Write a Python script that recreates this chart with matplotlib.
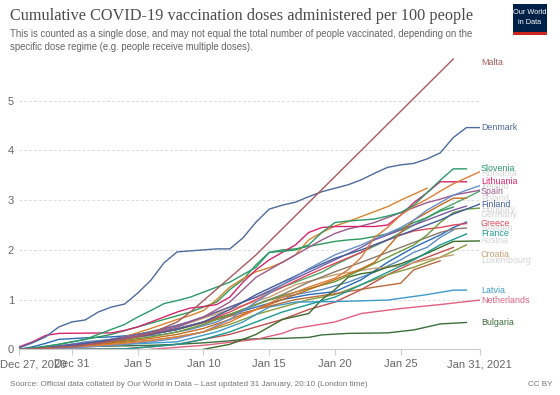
import matplotlib
matplotlib.use("Agg")
import matplotlib.pyplot as plt
import matplotlib.transforms as mtransforms
from matplotlib.patches import Rectangle
import pandas as pd

start = pd.Timestamp("2020-12-27")

# (days since Dec 27, doses per 100 people)
denmark = list(enumerate([0.03, 0.13, 0.25, 0.45, 0.55, 0.59, 0.75, 0.85, 0.91, 1.13, 1.39, 1.74,
                          1.96, 1.98, 2.00, 2.02, 2.02, 2.24, 2.56, 2.82, 2.90, 2.96, 3.07, 3.17,
                          3.24, 3.31, 3.41, 3.54, 3.66, 3.71, 3.74, 3.83, 3.95, 4.26, 4.46, 4.46]))
malta = [(0, 0.0), (4, 0.05), (8, 0.2), (10, 0.32), (12, 0.55), (13, 0.75), (18, 1.9), (33, 5.84)]
slovenia = [(0, 0.0), (1, 0.03), (2, 0.06), (3, 0.1), (4, 0.15), (5, 0.2), (6, 0.3), (7, 0.4),
            (8, 0.5), (9, 0.65), (10, 0.78), (11, 0.92), (12, 0.98), (13, 1.05), (14, 1.15),
            (15, 1.25), (16, 1.35), (17, 1.5), (18, 1.65), (19, 1.95), (20, 1.97), (21, 2.0),
            (22, 2.1), (23, 2.35), (24, 2.55), (25, 2.58), (26, 2.6), (27, 2.62), (28, 2.68),
            (29, 2.75), (30, 2.9), (31, 3.15), (32, 3.4), (33, 3.63), (34, 3.63)]
lithuania = [(0, 0.05), (1, 0.15), (2, 0.28), (3, 0.32), (7, 0.33), (8, 0.38), (9, 0.45),
             (10, 0.55), (11, 0.65), (12, 0.75), (13, 0.83), (14, 0.86), (15, 0.9), (16, 1.05),
             (17, 1.35), (18, 1.6), (19, 1.8), (20, 1.95), (21, 2.1), (22, 2.35), (23, 2.45),
             (24, 2.47), (27, 2.47), (28, 2.5), (29, 2.7), (30, 2.95), (31, 3.15), (32, 3.37),
             (34, 3.37)]
italy = [(0, 0.0), (2, 0.02), (4, 0.05), (6, 0.12), (8, 0.25), (10, 0.42), (12, 0.6), (13, 0.68),
         (14, 0.78), (15, 1.0), (16, 1.25), (17, 1.42), (18, 1.56), (19, 1.64), (20, 1.75),
         (21, 1.9), (22, 2.2), (23, 2.35), (24, 2.48), (25, 2.57), (26, 2.67), (27, 2.77),
         (28, 2.87), (29, 3.0), (30, 3.12), (31, 3.24)]
spain = [(0, 0.0), (2, 0.02), (4, 0.06), (6, 0.12), (8, 0.22), (10, 0.32), (12, 0.45), (14, 0.65),
         (16, 0.95), (17, 1.2), (18, 1.45), (19, 1.6), (20, 1.75), (21, 1.9), (22, 2.05),
         (23, 2.2), (24, 2.33), (25, 2.42), (26, 2.48), (27, 2.55), (28, 2.65), (29, 2.75),
         (30, 2.85), (31, 2.95), (32, 3.02), (33, 3.1), (34, 3.15), (35, 3.2)]
romania = [(0, 0.0), (2, 0.02), (4, 0.05), (6, 0.08), (8, 0.12), (10, 0.18), (12, 0.25),
           (14, 0.35), (16, 0.55), (18, 0.8), (20, 1.05), (22, 1.25), (24, 1.43), (25, 1.6),
           (26, 1.85), (27, 2.25), (28, 2.45), (29, 2.7), (30, 2.88), (31, 3.02), (32, 3.18),
           (33, 3.33), (34, 3.45), (35, 3.57)]
ireland = [(0, 0.0), (2, 0.01), (4, 0.03), (6, 0.06), (8, 0.1), (10, 0.15), (12, 0.22),
           (14, 0.35), (16, 0.6), (18, 0.95), (20, 1.3), (22, 1.62), (24, 1.9), (25, 2.0),
           (26, 2.1), (27, 2.22), (28, 2.33), (29, 2.45), (30, 2.6), (31, 2.8), (32, 2.95),
           (33, 3.1), (34, 3.2), (35, 3.29)]
estonia = [(0, 0.0), (1, 0.02), (3, 0.1), (5, 0.2), (7, 0.3), (9, 0.45), (11, 0.6), (13, 0.75),
           (15, 0.95), (16, 1.2), (17, 1.4), (18, 1.7), (19, 1.95), (20, 2.0), (21, 2.02),
           (22, 2.07), (23, 2.12), (24, 2.17), (25, 2.2), (26, 2.22), (27, 2.27), (28, 2.32),
           (29, 2.42), (30, 2.55), (31, 2.65), (32, 2.78), (33, 2.86)]
portugal = [(0, 0.0), (1, 0.02), (3, 0.06), (5, 0.12), (7, 0.2), (9, 0.3), (11, 0.42),
            (13, 0.55), (15, 0.75), (17, 0.95), (19, 1.15), (21, 1.35), (23, 1.55), (24, 1.7),
            (26, 1.95), (28, 2.2), (30, 2.5), (32, 2.8), (34, 3.05), (35, 3.18)]
poland = [(0, 0.0), (2, 0.02), (4, 0.05), (6, 0.1), (8, 0.16), (10, 0.22), (12, 0.3), (14, 0.42),
          (16, 0.6), (18, 0.8), (20, 1.0), (22, 1.2), (24, 1.4), (26, 1.62), (27, 1.75),
          (28, 2.05), (29, 2.35), (30, 2.6), (31, 2.75), (32, 2.9), (33, 3.04), (34, 3.04)]
finland = [(0, 0.0), (2, 0.03), (4, 0.08), (6, 0.15), (8, 0.22), (10, 0.3), (12, 0.4), (14, 0.55),
           (16, 0.8), (18, 1.1), (20, 1.35), (22, 1.6), (24, 1.83), (26, 2.0), (28, 2.2),
           (30, 2.4), (32, 2.6), (33, 2.72), (34, 2.82), (35, 2.92)]
hungary = [(0, 0.0), (2, 0.04), (4, 0.1), (6, 0.15), (8, 0.25), (10, 0.35), (12, 0.48),
           (14, 0.65), (16, 0.85), (18, 1.05), (20, 1.3), (22, 1.55), (24, 1.8), (26, 2.05),
           (27, 2.2), (28, 2.3), (30, 2.5), (32, 2.7), (33, 2.8), (34, 2.88)]
germany = [(0, 0.0), (2, 0.03), (4, 0.07), (6, 0.12), (8, 0.18), (10, 0.25), (12, 0.35),
           (14, 0.5), (16, 0.7), (18, 0.9), (20, 1.08), (22, 1.22), (24, 1.36), (26, 1.6),
           (28, 1.85), (30, 2.1), (31, 2.3), (32, 2.55), (33, 2.75), (34, 2.82), (35, 2.84)]
greece = [(0, 0.0), (2, 0.03), (4, 0.08), (6, 0.15), (8, 0.22), (10, 0.3), (12, 0.4), (14, 0.55),
          (16, 0.75), (18, 1.0), (20, 1.25), (22, 1.5), (24, 1.73), (26, 1.95), (27, 2.1),
          (28, 2.2), (29, 2.3), (30, 2.38), (31, 2.42), (32, 2.45), (33, 2.5), (34, 2.53)]
sweden = [(0, 0.0), (2, 0.02), (4, 0.06), (6, 0.12), (8, 0.2), (10, 0.3), (12, 0.4), (14, 0.55),
          (16, 0.7), (18, 0.9), (20, 1.1), (22, 1.35), (24, 1.56), (26, 1.75), (28, 1.95),
          (30, 2.15), (32, 2.35), (33, 2.42), (34, 2.44)]
czechia = [(0, 0.0), (1, 0.05), (2, 0.12), (3, 0.2), (5, 0.23), (7, 0.25), (8, 0.27), (10, 0.33),
           (12, 0.42), (14, 0.55), (16, 0.7), (18, 0.85), (20, 1.0), (22, 1.1), (24, 1.16),
           (26, 1.4), (28, 1.75), (30, 2.05), (32, 2.3), (33, 2.45), (34, 2.56)]
cyprus = [(0, 0.0), (1, 0.02), (3, 0.06), (5, 0.15), (7, 0.2), (9, 0.25), (11, 0.3), (13, 0.4),
          (15, 0.55), (17, 0.8), (19, 1.0), (21, 1.1), (23, 1.2), (25, 1.35), (27, 1.55),
          (29, 1.8), (30, 1.95), (31, 2.05), (32, 2.25), (33, 2.4)]
france = [(0, 0.0), (5, 0.0), (8, 0.01), (10, 0.05), (12, 0.1), (14, 0.2), (16, 0.35), (18, 0.55),
          (20, 0.75), (22, 0.9), (24, 1.05), (26, 1.3), (28, 1.55), (30, 1.8), (32, 2.1),
          (34, 2.32)]
austria = [(14, 0.0), (15, 0.05), (16, 0.1), (17, 0.2), (18, 0.3), (19, 0.45), (20, 0.6),
           (21, 0.66), (22, 0.72), (23, 1.0), (24, 1.2), (25, 1.45), (26, 1.52), (27, 1.56),
           (28, 1.65), (29, 1.72), (30, 1.82), (31, 1.93), (32, 2.05), (33, 2.17), (35, 2.18)]
belgium = [(1, 0.0), (8, 0.01), (10, 0.05), (12, 0.1), (14, 0.2), (16, 0.3), (18, 0.45),
           (20, 0.6), (22, 0.8), (24, 0.95), (26, 1.2), (28, 1.5), (30, 1.75), (32, 1.95),
           (33, 2.05)]
slovakia = [(0, 0.0), (2, 0.03), (4, 0.07), (6, 0.1), (8, 0.14), (10, 0.18), (12, 0.25),
            (14, 0.35), (16, 0.5), (18, 0.7), (20, 0.85), (22, 1.0), (24, 1.1), (26, 1.3),
            (28, 1.5), (30, 1.65), (32, 1.85), (34, 2.1)]
croatia = [(0, 0.0), (2, 0.02), (5, 0.1), (8, 0.2), (12, 0.45), (16, 0.8), (19, 1.05), (21, 1.3),
           (24, 1.5), (27, 1.63), (29, 1.68), (31, 1.8), (33, 1.9)]
luxembourg = [(0, 0.0), (3, 0.05), (6, 0.12), (9, 0.25), (12, 0.4), (15, 0.6), (18, 0.8),
              (21, 1.0), (24, 1.12), (27, 1.25), (29, 1.33), (30, 1.6), (32, 1.78)]
latvia = [(0, 0.0), (4, 0.05), (8, 0.1), (12, 0.15), (15, 0.35), (17, 0.55), (19, 0.85),
          (21, 0.95), (24, 0.96), (28, 0.99), (31, 1.1), (33, 1.19), (34, 1.19)]
netherlands = [(10, 0.0), (14, 0.08), (18, 0.2), (20, 0.32), (21, 0.42), (24, 0.55), (26, 0.72),
               (29, 0.82), (32, 0.9), (35, 0.99)]
bulgaria = [(0, 0.01), (2, 0.03), (4, 0.05), (6, 0.06), (8, 0.07), (10, 0.08), (12, 0.1),
            (14, 0.13), (16, 0.17), (17, 0.2), (18, 0.21), (20, 0.22), (22, 0.24), (23, 0.29),
            (25, 0.32), (28, 0.33), (30, 0.39), (32, 0.51), (34, 0.54)]

tick_days = [0, 4, 9, 14, 19, 24, 29, 35]
tick_labels = ["Dec 27, 2020", "Dec 31", "Jan 5", "Jan 10", "Jan 15", "Jan 20", "Jan 25", "Jan 31, 2021"]

# name, data, colour, label kind (main / faded / None)
series = [
    ("Belgium", belgium, "#c0504d", None),
    ("Slovakia", slovakia, "#8a9a3a", None),
    ("Cyprus", cyprus, "#5a8ac0", None),
    ("Czechia", czechia, "#286bbb", None),
    ("Portugal", portugal, "#4aa86a", None),
    ("Estonia", estonia, "#2c9a5a", None),
    ("Italy", italy, "#d9822b", None),
    ("Bulgaria", bulgaria, "#3a6e3a", "main"),
    ("Netherlands", netherlands, "#e06080", "main"),
    ("Latvia", latvia, "#3a9ac8", "main"),
    ("Luxembourg", luxembourg, "#b86a3a", "faded"),
    ("Croatia", croatia, "#c8a070", "main"),
    ("Austria", austria, "#3d6b2a", "faded"),
    ("France", france, "#1a9a94", "main"),
    ("Sweden", sweden, "#8a7a6a", "faded"),
    ("Greece", greece, "#e04858", "main"),
    ("Germany", germany, "#6a9a3a", "faded"),
    ("Hungary", hungary, "#7a5aa8", "faded"),
    ("Finland", finland, "#3f5f9a", "main"),
    ("Poland", poland, "#c86a1a", "faded"),
    ("Spain", spain, "#9c5a8c", "main"),
    ("Ireland", ireland, "#6a8fc8", "faded"),
    ("Lithuania", lithuania, "#d6246e", "main"),
    ("Romania", romania, "#e07b39", "faded"),
    ("Slovenia", slovenia, "#2a9a6a", "main"),
    ("Denmark", denmark, "#4c6a9c", "main"),
    ("Malta", malta, "#a8595c", "main"),
]

plt.rcParams['font.family'] = ['Liberation Sans', 'DejaVu Sans']

fig = plt.figure(figsize=(5.6, 3.95), dpi=100)
ax = fig.add_axes([19.4 / 560, 1 - 349.3 / 395, 460.2 / 560, (349.3 - 58.5) / 395])

for name, pts, color, lab in series:
    days = [p[0] for p in pts]
    vals = [p[1] for p in pts]
    x = start + pd.to_timedelta(days, unit="D")
    ax.plot(x, vals, color=color, lw=1.0, solid_joinstyle="round")

ax.set_xlim(start, start + pd.Timedelta(days=35))
ax.set_ylim(0, 5.85)
ax.set_yticks([0, 1, 2, 3, 4, 5])
ax.set_yticklabels(["0", "1", "2", "3", "4", "5"])
ax.set_xticks(start + pd.to_timedelta(tick_days, unit="D"))
ax.set_xticklabels(tick_labels)

for s in ["top", "right", "left"]:
    ax.spines[s].set_visible(False)
ax.spines["bottom"].set_color("#cccccc")
ax.spines["bottom"].set_linewidth(0.8)
ax.tick_params(axis="x", colors="#cccccc", length=4, width=0.8, labelcolor="#666666", labelsize=8, pad=3)
ax.tick_params(axis="y", length=0, labelcolor="#666666", labelsize=8, pad=4)
ax.grid(axis="y", color="#dddddd", linestyle=(0, (3, 2)), linewidth=0.7)
ax.set_axisbelow(True)

# first tick label sits flush with the left edge
first = ax.get_xticklabels()[0]
first.set_horizontalalignment("left")
first.set_transform(first.get_transform() + mtransforms.ScaledTranslation(-19 / 100, 0, fig.dpi_scale_trans))

# end labels, pushed apart top-down (faded ones overlap, as in the original)
labelled = [(name, pts[-1][1], color, lab) for name, pts, color, lab in series if lab]
labelled.sort(key=lambda t: -t[1])
prev = None
for name, end, color, lab in labelled:
    y = end if prev is None else min(end, prev - 0.1)
    y = min(y, 5.77)
    prev = y
    ax.annotate(name, xy=(1, y), xycoords=ax.get_yaxis_transform(), xytext=(1, 0),
                textcoords="offset points", va="center", ha="left", fontsize=6.4,
                color=color if lab == "main" else "#d4d4d4", annotation_clip=False,
                zorder=1 if lab == "faded" else 3)

fig.text(10 / 560, 1 - 16 / 395, "Cumulative COVID-19 vaccination doses administered per 100 people",
         family=["Liberation Serif", "DejaVu Serif"], fontsize=11.7, color="#4a4a4a", va="center")
fig.text(10 / 560, 1 - 34 / 395,
         "This is counted as a single dose, and may not equal the total number of people vaccinated, depending on the",
         fontsize=6.9, color="#666666", va="center")
fig.text(10 / 560, 1 - 47 / 395, "specific dose regime (e.g. people receive multiple doses).",
         fontsize=6.9, color="#666666", va="center")
fig.text(10 / 560, 1 - 384 / 395,
         "Source: Official data collated by Our World in Data – Last updated 31 January, 20:10 (London time)",
         fontsize=5.9, color="#777777", va="center")
fig.text(553 / 560, 1 - 384 / 395, "CC BY", fontsize=5.9, color="#777777", va="center", ha="right")

# OWID logo
fig.patches.append(Rectangle((512.6 / 560, 1 - 34.8 / 395), 34.8 / 560, 31.2 / 395,
                             transform=fig.transFigure, facecolor="#002147", edgecolor="none"))
fig.patches.append(Rectangle((512.6 / 560, 1 - 34.8 / 395), 34.8 / 560, 3 / 395,
                             transform=fig.transFigure, facecolor="#ce261e", edgecolor="none"))
fig.text(530 / 560, 1 - 13 / 395, "Our World", fontsize=5.3, color="white", ha="center", va="center")
fig.text(530 / 560, 1 - 22 / 395, "in Data", fontsize=5.3, color="white", ha="center", va="center")

fig.savefig("out.png", dpi=100)
